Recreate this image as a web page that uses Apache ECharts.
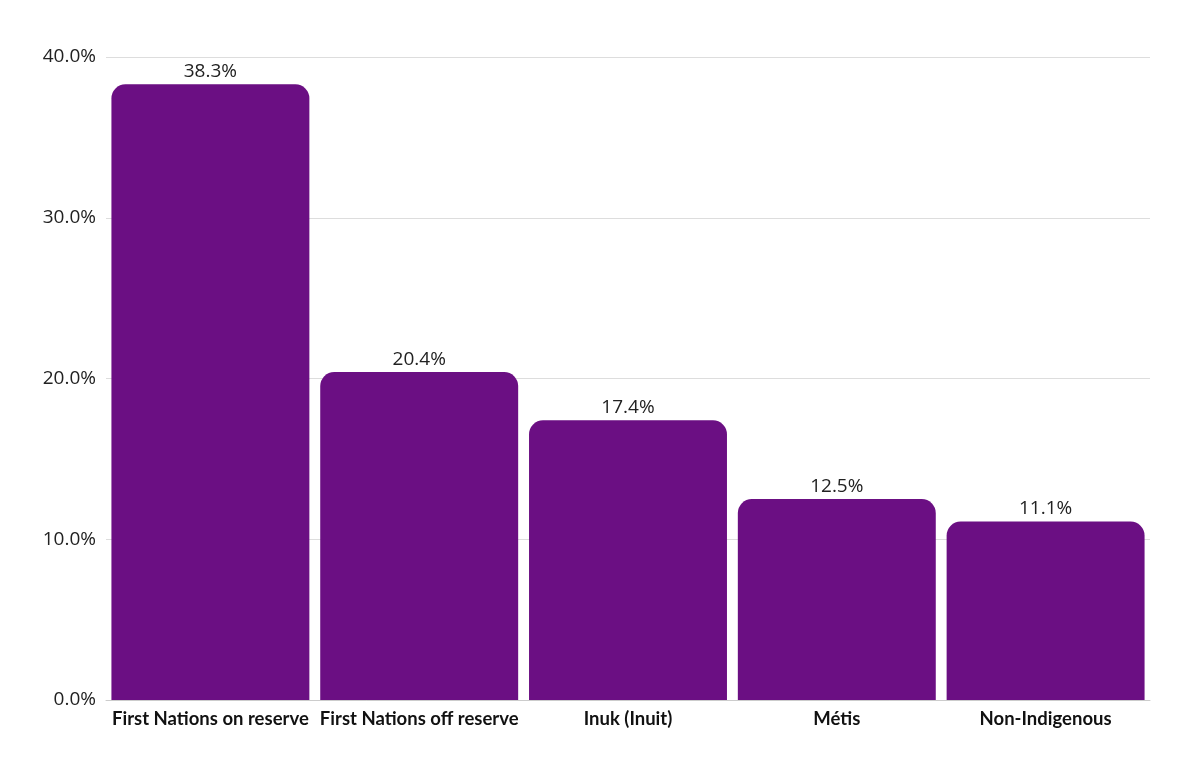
<!DOCTYPE html>
<html>
<head>
<meta charset="utf-8">
<script src="https://cdn.jsdelivr.net/npm/echarts@6/dist/echarts.min.js"></script>
<style>
  html, body { margin: 0; padding: 0; background: #fff; }
  #chart { width: 1200px; height: 776px; }
</style>
</head>
<body>
<div id="chart"></div>
<script>
// categories and values
var categories = ['First Nations on reserve', 'First Nations off reserve', 'Inuk (Inuit)', 'Métis', 'Non-Indigenous'];
var values = [38.3, 20.4, 17.4, 12.5, 11.1];

var chart = echarts.init(document.getElementById('chart'));
chart.setOption({
    animation: false,
    grid: { left: 106, right: 50, top: 57, bottom: 76 },
    xAxis: {
        type: 'category',
        data: categories,
        axisTick: { show: false },
        axisLine: { lineStyle: { color: '#cccccc' } },
        axisLabel: {
            color: '#111',
            fontFamily: 'Lato',
            fontWeight: 'bold',
            fontSize: 18.5,
            margin: 10,
            interval: 0
        }
    },
    yAxis: {
        type: 'value',
        min: 0,
        max: 40,
        interval: 10,
        axisLine: { show: false },
        axisTick: { show: false },
        splitLine: { lineStyle: { color: '#dddddd' } },
        axisLabel: {
            color: '#222',
            fontFamily: 'Open Sans',
            fontSize: 19,
            margin: 10,
            formatter: function (v) { return v.toFixed(1) + '%'; }
        }
    },
    series: [{
        type: 'bar',
        data: values,
        barCategoryGap: '5.2%',
        itemStyle: { color: '#6b0f83', borderRadius: [14, 14, 0, 0] },
        label: {
            show: true,
            position: 'top',
            distance: 3,
            color: '#222',
            fontFamily: 'Open Sans',
            fontSize: 19,
            formatter: function (p) { return p.value.toFixed(1) + '%'; }
        }
    }]
});
</script>
</body>
</html>
